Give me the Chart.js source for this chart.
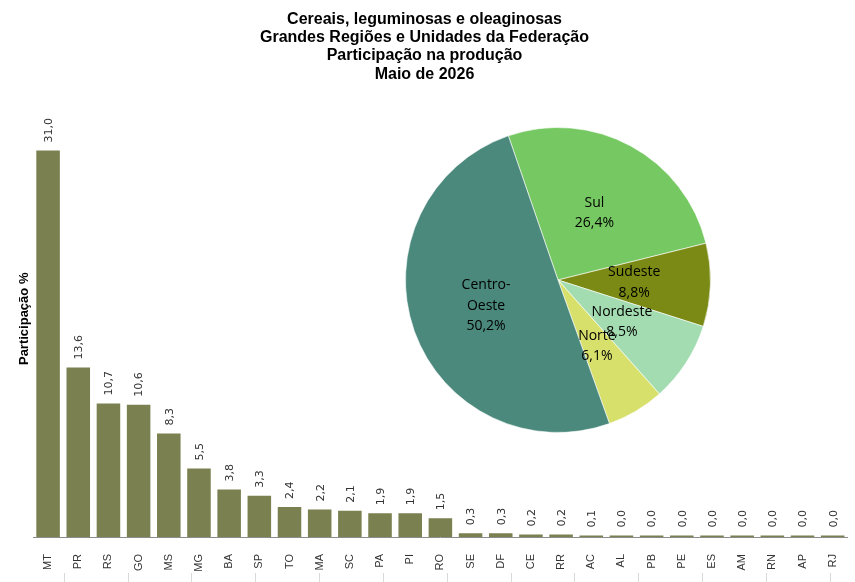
<!DOCTYPE html>
<html lang="pt-BR">
<head>
<meta charset="UTF-8">
<title>Cereais, leguminosas e oleaginosas</title>
<script src="https://cdn.jsdelivr.net/npm/chart.js@4.4.1/dist/chart.umd.min.js"></script>
<style>
    html, body { margin: 0; padding: 0; background: #fff; }
    #wrap { position: relative; width: 855px; height: 582px; }
    #barChart { position: absolute; left: 0; top: 0; }
    #pieChart { position: absolute; left: 405px; top: 127px; }
</style>
</head>
<body>
<div id="wrap">
    <canvas id="barChart" width="855" height="582"></canvas>
    <canvas id="pieChart" width="306" height="306"></canvas>
</div>
<script>
// Dados das UFs
const ufs = ['MT', 'PR', 'RS', 'GO', 'MS', 'MG', 'BA', 'SP', 'TO', 'MA', 'SC', 'PA', 'PI', 'RO',
    'SE', 'DF', 'CE', 'RR', 'AC', 'AL', 'PB', 'PE', 'ES', 'AM', 'RN', 'AP', 'RJ'];
const participacaoUf = [31.0, 13.6, 10.7, 10.6, 8.3, 5.5, 3.8, 3.3, 2.4, 2.2, 2.1, 1.9, 1.9, 1.5,
    0.3, 0.3, 0.2, 0.2, 0.1, 0.0, 0.0, 0.0, 0.0, 0.0, 0.0, 0.0, 0.0];

// Dados das Grandes Regiões
const regioes = ['Sul', 'Sudeste', 'Nordeste', 'Norte', 'Centro-Oeste'];
const participacaoRegiao = [26.4, 8.8, 8.5, 6.1, 50.2];

const titulo = ['Cereais, leguminosas e oleaginosas', 'Grandes Regiões e Unidades da Federação',
    'Participação na produção', 'Maio de 2026'];

const corBarra = '#7A804F';
const coresRegiao = ['#76C962', '#7A8A14', '#A3DCB0', '#D7E06B', '#4A897C'];

const fmt = v => v.toFixed(1).replace('.', ',');

// Rótulos verticais acima das barras
const barLabels = {
    id: 'barLabels',
    afterDatasetsDraw(chart) {
        const ctx = chart.ctx;
        const meta = chart.getDatasetMeta(0);
        ctx.save();
        ctx.font = '11px "DejaVu Sans"';
        ctx.fillStyle = '#333';
        ctx.textAlign = 'left';
        ctx.textBaseline = 'middle';
        meta.data.forEach((bar, i) => {
            ctx.save();
            ctx.translate(bar.x + 1, bar.y - 8);
            ctx.rotate(-Math.PI / 2);
            ctx.fillText(fmt(participacaoUf[i]), 0, 0);
            ctx.restore();
        });
        ctx.restore();
    }
};

// Pequenas marcas do eixo secundário, no rodapé (13 divisões)
const marcasRodape = {
    id: 'marcasRodape',
    afterDraw(chart) {
        const ctx = chart.ctx;
        const area = chart.chartArea;
        const passo = area.width / 12.76;
        ctx.save();
        ctx.strokeStyle = '#d9d9d9';
        ctx.lineWidth = 1;
        for (let k = 0; k <= 12; k++) {
            const x = Math.round(area.left + (k + 0.48) * passo) + 0.5;
            ctx.beginPath();
            ctx.moveTo(x, chart.height - 9);
            ctx.lineTo(x, chart.height);
            ctx.stroke();
        }
        ctx.restore();
    }
};

// Rótulos dentro das fatias
const pieLabels = {
    id: 'pieLabels',
    afterDatasetsDraw(chart) {
        const ctx = chart.ctx;
        const meta = chart.getDatasetMeta(0);
        ctx.save();
        ctx.font = '14px "Open Sans"';
        ctx.fillStyle = '#000';
        ctx.textAlign = 'center';
        ctx.textBaseline = 'middle';
        meta.data.forEach((arc, i) => {
            const p = arc.tooltipPosition();
            let nome = regioes[i] === 'Centro-Oeste' ? ['Centro-', 'Oeste'] : [regioes[i]];
            const linhas = nome.concat([fmt(participacaoRegiao[i]) + '%']);
            const y0 = p.y - (linhas.length - 1) * 10;
            linhas.forEach((t, k) => ctx.fillText(t, p.x, y0 + k * 20.5));
        });
        ctx.restore();
    }
};

new Chart(document.getElementById('barChart'), {
    type: 'bar',
    data: {
        labels: ufs,
        datasets: [{
            data: participacaoUf,
            backgroundColor: corBarra,
            barPercentage: 0.78,
            categoryPercentage: 1,
            minBarLength: 1.5
        }]
    },
    options: {
        responsive: false,
        animation: false,
        layout: { padding: { left: 0, right: 6, top: 0, bottom: 0 } },
        plugins: {
            legend: { display: false },
            tooltip: { enabled: false },
            title: {
                display: true,
                text: titulo,
                color: '#000',
                font: { family: '"Liberation Sans", Arial', size: 16, weight: 'bold', lineHeight: 1.15 },
                padding: { top: 10, bottom: 17 }
            }
        },
        scales: {
            x: {
                grid: { display: false },
                border: { display: true, color: '#8c8c8c', width: 1 },
                ticks: {
                    color: '#333',
                    font: { family: '"Liberation Sans", Arial', size: 11 },
                    minRotation: 90,
                    maxRotation: 90,
                    autoSkip: false,
                    padding: 9
                },
                afterFit(scale) { scale.height = 45; }
            },
            y: {
                min: 0,
                max: 35,
                grid: { display: false },
                border: { display: false },
                ticks: { display: false },
                title: {
                    display: true,
                    text: 'Participação %',
                    color: '#000',
                    font: { family: '"Liberation Sans", Arial', size: 13, weight: 'bold' },
                    padding: { top: 17, bottom: 0 }
                },
                afterFit(scale) { scale.width = 33; }
            }
        }
    },
    plugins: [barLabels, marcasRodape]
});

new Chart(document.getElementById('pieChart'), {
    type: 'pie',
    data: {
        labels: regioes,
        datasets: [{
            data: participacaoRegiao,
            backgroundColor: coresRegiao,
            borderColor: 'rgba(255,255,255,0.6)',
            borderWidth: 1
        }]
    },
    options: {
        responsive: false,
        animation: false,
        rotation: -19,
        layout: { padding: 0 },
        plugins: {
            legend: { display: false },
            tooltip: { enabled: false }
        }
    },
    plugins: [pieLabels]
});
</script>
</body>
</html>
